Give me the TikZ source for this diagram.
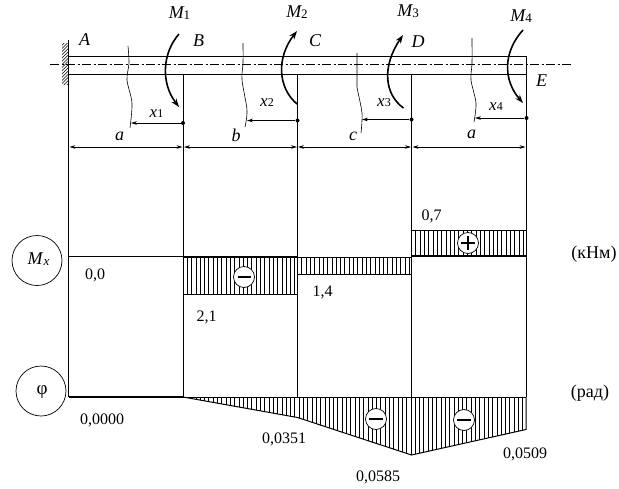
\documentclass[tikz,border=0pt]{standalone}
\usepackage{fontspec}
\setmainfont{Liberation Serif}
\usetikzlibrary{arrows.meta}
\tikzset{
  ln/.style={line width=1pt,black},
  hatchline/.style={line width=0.65pt,black},
  moment/.style={line width=1.6pt,-{Stealth[length=8.5pt,width=6pt]}},
  dimline/.style={line width=0.8pt,{Stealth[length=6pt,width=3.6pt]}-{Stealth[length=6pt,width=3.6pt]}},
  xarrow/.style={line width=0.8pt,-{Stealth[length=6pt,width=3.6pt]}},
  wave/.style={line width=0.6pt,black},
  dotn/.style={circle,fill=black,inner sep=0pt,minimum size=4pt},
  lab/.style={inner sep=0pt,font=\fontsize{17}{17}\selectfont},
  ilab/.style={inner sep=0pt,font=\fontsize{18}{18}\selectfont\itshape},
  num/.style={inner sep=0pt,font=\fontsize{16}{16}\selectfont},
  bigc/.style={circle,draw,line width=0.7pt,minimum size=50pt,inner sep=0pt},
  signc/.style={circle,draw,fill=white,line width=0.7pt,minimum size=21pt,inner sep=0pt},
}
\begin{document}
\begin{tikzpicture}[x=1pt,y=-1pt]
\useasboundingbox (0,0) rectangle (619,488);
\fill[white] (0,0) rectangle (619,488);
% key points
\coordinate (Wt) at (68.5,40);
\coordinate (Wb) at (68.5,86);
\coordinate (Bt) at (183,74);
\coordinate (Ct) at (297.5,74);
\coordinate (Dt) at (411.5,74);
\coordinate (Et) at (526,56);
\coordinate (A0) at (68.5,397);
\coordinate (B0) at (183,397);
\coordinate (C0) at (297.5,397);
\coordinate (D0) at (411.5,397);
\coordinate (E0) at (526,397);
\coordinate (Cp) at (297.5,417.5);
\coordinate (Dp) at (411.5,455);
\coordinate (Ep) at (526,429.5);
% wall hatching
\begin{scope}
\clip (62,43) rectangle (68.5,84);
\foreach \k in {0,...,15}
  \draw[line width=0.55pt] (61,{43+\k*3.2}) -- (69,{43+\k*3.2-8});
\end{scope}
% moment diagram hatching
\foreach \xx in {183,187.3,...,297.5}
  \draw[hatchline] (\xx,257) -- (\xx,294);
\foreach \xx in {297.5,301.8,...,411.5}
  \draw[hatchline] (\xx,257) -- (\xx,274.5);
\foreach \xx in {411.5,415.8,...,526.5}
  \draw[hatchline] (\xx,230.5) -- (\xx,256);
% rotation diagram hatching
\begin{scope}
\clip (B0) -- (Cp) -- (Dp) -- (Ep) -- (E0) -- cycle;
\foreach \xx in {183,187.3,...,527}
  \draw[hatchline] (\xx,397) -- (\xx,456);
\end{scope}
% verticals
\draw[line width=1.4pt] (Wt) -- (Wb);
\draw[ln] (Wb) -- (A0);
\draw[ln] (Bt) -- (B0);
\draw[ln] (Ct) -- (C0);
\draw[ln] (Dt) -- (D0);
\draw[ln] (Et) -- (E0);
% beam
\coordinate (L1) at (68.5,56); \coordinate (L2) at (68.5,74);
\draw[ln] (L1) -- (Et);
\draw[ln] (L2) -- (526,74);
\coordinate (Cl) at (50,64.5); \coordinate (Cr) at (573,64.5);
\draw[line width=0.7pt,dash pattern=on 9pt off 2.5pt on 2pt off 2.5pt] (Cl) -- (Cr);
% moment diagram
\coordinate (Mb) at (68.5,256);
\draw[ln] (Mb) -- (183,256);
\draw[line width=1.2pt] (183,257) -- (297.5,257);
\draw[ln] (183,257) rectangle (297.5,294);
\draw[ln] (297.5,257) rectangle (411.5,274.5);
\draw[ln] (411.5,230.5) -- (526.5,230.5);
\draw[line width=1.7pt] (411.5,230.5) -- (411.5,256) -- (526.5,256) -- (526.5,230.5);
% rotation diagram
\draw[line width=1.3pt] (A0) -- (B0);
\draw[ln] (B0) -- (E0);
\draw[ln] (B0) -- (Cp) -- (Dp) -- (Ep) -- (E0);
% moments
\draw[moment] (179,34) .. controls (163,52) and (160,82) .. (179,107);
\draw[moment] (297,104) .. controls (278,88) and (276,58) .. (297,31);
\draw[moment] (403.5,108) .. controls (384,94) and (382,66) .. (403,35);
\draw[moment] (523,30) .. controls (503,52) and (503,80) .. (523,103);
% section wavy lines
\draw[wave] plot[smooth] coordinates {(128,46) (129,63) (127,80) (132,103) (130,128)};
\draw[wave] plot[smooth] coordinates {(243,43) (243,63) (242,80) (247,110) (245,127)};
\draw[wave] plot[smooth] coordinates {(357,53) (357,77) (357,87) (362,113) (361,133)};
\draw[wave] plot[smooth] coordinates {(472,38) (472,63) (471,80) (476,103) (474,122)};
% section arrows
\node[dotn] (d1) at (183,123) {};
\node[dotn] (d2) at (297.5,120.5) {};
\node[dotn] (d3) at (411.5,119.5) {};
\node[dotn] (d4) at (526.5,118) {};
\coordinate (s1) at (131,123); \coordinate (s2) at (247,120.5);
\coordinate (s3) at (362,119.5); \coordinate (s4) at (475,118);
\draw[xarrow] (d1) -- (s1);
\draw[xarrow] (d2) -- (s2);
\draw[xarrow] (d3) -- (s3);
\draw[xarrow] (d4) -- (s4);
% dimensions
\coordinate (a1) at (69.5,147); \coordinate (a2) at (182.5,147);
\coordinate (a3) at (184,147); \coordinate (a4) at (297,147);
\coordinate (a5) at (298,147); \coordinate (a6) at (411,147);
\coordinate (a7) at (412.5,147); \coordinate (a8) at (525.5,147);
\draw[dimline] (a1) -- (a2);
\draw[dimline] (a3) -- (a4);
\draw[dimline] (a5) -- (a6);
\draw[dimline] (a7) -- (a8);
% circles
\node[bigc] (mx) at (37,260.5) {};
\node[bigc] (phi) at (41,391) {};
\node[lab,font=\fontsize{18}{18}\selectfont] (mxt) at (38.5,259) {\textit{M}\raisebox{-1.5pt}{\fontsize{13}{13}\selectfont\textit{x}}};
\node[lab,font=\fontsize{19}{19}\selectfont] (phit) at (42,392) {φ};
% signs
\node[signc] (s1m) at (244,277) {};
\node[signc] (s2p) at (468,243) {};
\node[signc] (s3m) at (376,419) {};
\node[signc] (s4m) at (464,420) {};
\draw[line width=1.3pt] (237.5,277) -- (250.5,277);
\draw[line width=1.1pt] (461,243) -- (475,243) (468,236) -- (468,250);
\draw[line width=1.3pt] (369,419) -- (383,419);
\draw[line width=1.3pt] (457,420) -- (471,420);
% labels
\node[ilab] (M1) at (179.5,13) {M\raisebox{-1.5pt}{\upshape\fontsize{13}{13}\selectfont 1}};
\node[ilab] (M2) at (297,12) {M\raisebox{-1.5pt}{\upshape\fontsize{13}{13}\selectfont 2}};
\node[ilab] (M3) at (408,11) {M\raisebox{-1.5pt}{\upshape\fontsize{13}{13}\selectfont 3}};
\node[ilab] (M4) at (521,16) {M\raisebox{-1.5pt}{\upshape\fontsize{13}{13}\selectfont 4}};
\node[ilab] (lA) at (84.5,40) {A};
\node[ilab] (lB) at (198.5,40.5) {B};
\node[ilab] (lC) at (315,41) {C};
\node[ilab] (lD) at (418,42) {D};
\node[ilab] (lE) at (541.5,81) {E};
\node[ilab] (la) at (119.5,136) {a};
\node[ilab] (lb) at (236,135.5) {b};
\node[ilab] (lc) at (353,136) {c};
\node[ilab] (ld) at (471.5,134) {a};
\node[lab] (x1) at (156.5,114) {\textit{x}\fontsize{12}{12}\selectfont 1};
\node[lab] (x2) at (267,103) {\textit{x}\fontsize{12}{12}\selectfont 2};
\node[lab] (x3) at (384,102.5) {\textit{x}\fontsize{12}{12}\selectfont 3};
\node[lab] (x4) at (496,107) {\textit{x}\fontsize{12}{12}\selectfont 4};
\node[num] (v1) at (95,275) {0,0};
\node[num] (v2) at (206.5,317) {2,1};
\node[num] (v3) at (322.5,292) {1,4};
\node[num] (v4) at (431.5,216.5) {0,7};
\node[num] (v5) at (102,420.5) {0,0000};
\node[num] (v6) at (284,439.5) {0,0351};
\node[num] (v7) at (378,477.5) {0,0585};
\node[num] (v8) at (525,454) {0,0509};
\node[lab,font=\fontsize{18}{18}\selectfont] (u1) at (594,254) {(кНм)};
\node[lab,font=\fontsize{18}{18}\selectfont] (u2) at (590,393) {(рад)};
\end{tikzpicture}
\end{document}
